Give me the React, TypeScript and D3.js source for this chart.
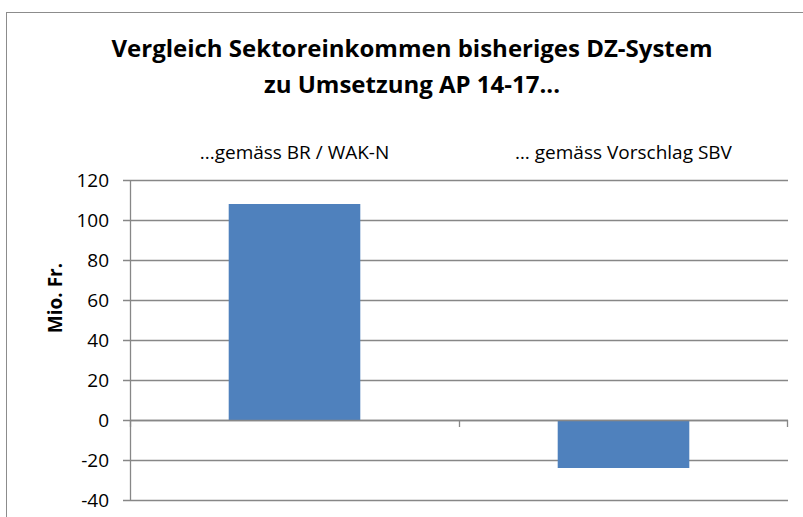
import { useEffect, useRef } from "react"
import * as d3 from "d3"

const categories = ["...gemäss BR / WAK-N", "… gemäss Vorschlag SBV"]
const values = [108, -24]
const yTicks = [-40, -20, 0, 20, 40, 60, 80, 100, 120]
const titleLines = ["Vergleich Sektoreinkommen bisheriges DZ-System", "zu Umsetzung AP 14-17..."]
const yLabel = "Mio. Fr."

export default function App() {
    const ref = useRef<SVGSVGElement | null>(null)

    useEffect(() => {
        const svg = d3.select(ref.current)
        svg.selectAll("*").remove()

        const width = 803
        const height = 517
        const margin = { top: 180, right: 15, bottom: 17, left: 130 }
        const innerW = width - margin.left - margin.right
        const innerH = height - margin.top - margin.bottom
        const font = "Open Sans, Liberation Sans, sans-serif"
        const grid = "#878787"

        svg.append("rect")
            .attr("x", 6.5).attr("y", 12.5)
            .attr("width", width + 20).attr("height", height + 20)
            .attr("fill", "#fff").attr("stroke", "#8c8c8c").attr("stroke-width", 1)

        svg.selectAll("text.title")
            .data(titleLines)
            .join("text")
            .attr("class", "title")
            .attr("x", 412)
            .attr("y", (_, i) => 57 + i * 36)
            .attr("text-anchor", "middle")
            .attr("font-family", font)
            .attr("font-weight", 700)
            .attr("font-size", 24)
            .attr("fill", "#000")
            .text(d => d)

        const g = svg.append("g").attr("transform", `translate(${margin.left},${margin.top})`)

        const x = d3.scaleBand().domain(categories).range([0, innerW]).paddingInner(0.6).paddingOuter(0.3)
        const xc = d3.scaleBand().domain(categories).range([0, innerW])
        const y = d3.scaleLinear().domain([-40, 120]).range([innerH, 0])

        // gridlines
        g.append("g")
            .selectAll("line")
            .data(yTicks)
            .join("line")
            .attr("x1", -7).attr("x2", innerW)
            .attr("y1", d => Math.round(y(d)) + 0.5).attr("y2", d => Math.round(y(d)) + 0.5)
            .attr("stroke", grid).attr("stroke-width", 1.3)

        g.append("line")
            .attr("x1", 0.5).attr("x2", 0.5).attr("y1", 0).attr("y2", innerH)
            .attr("stroke", grid).attr("stroke-width", 1.3)

        g.append("g")
            .selectAll("text")
            .data(yTicks)
            .join("text")
            .attr("x", -21)
            .attr("y", d => y(d))
            .attr("dy", "0.36em")
            .attr("text-anchor", "end")
            .attr("font-family", font)
            .attr("font-size", 19)
            .attr("fill", "#000")
            .text(d => d)

        g.append("g")
            .selectAll("rect")
            .data(values)
            .join("rect")
            .attr("x", (_, i) => x(categories[i])!)
            .attr("width", x.bandwidth())
            .attr("y", d => y(Math.max(0, d)))
            .attr("height", d => Math.abs(y(d) - y(0)))
            .attr("fill", "#4f81bd")

        // zero axis with category ticks
        g.append("line")
            .attr("x1", 0).attr("x2", innerW)
            .attr("y1", Math.round(y(0)) + 0.5).attr("y2", Math.round(y(0)) + 0.5)
            .attr("stroke", grid).attr("stroke-width", 1.3)

        const tickXs = [0, ...categories.map(c => xc(c)! + xc.bandwidth())]
        g.append("g")
            .selectAll("line")
            .data(tickXs)
            .join("line")
            .attr("x1", d => Math.min(Math.round(d) + 0.5, innerW - 0.5))
            .attr("x2", d => Math.min(Math.round(d) + 0.5, innerW - 0.5))
            .attr("y1", y(0)).attr("y2", y(0) + 7)
            .attr("stroke", grid).attr("stroke-width", 1.3)

        g.append("g")
            .selectAll("text")
            .data(categories)
            .join("text")
            .attr("x", d => xc(d)! + xc.bandwidth() / 2)
            .attr("y", -21)
            .attr("text-anchor", "middle")
            .attr("font-family", font)
            .attr("font-size", 19)
            .attr("fill", "#000")
            .text(d => d)

        svg.append("text")
            .attr("transform", `translate(62,298) rotate(-90)`)
            .attr("text-anchor", "middle")
            .attr("font-family", font)
            .attr("font-weight", 700)
            .attr("font-size", 19)
            .attr("fill", "#000")
            .text(yLabel)
    }, [])

    return (
        <svg
            ref={ref}
            width={803}
            height={517}
            style={{ position: "absolute", left: 0, top: 0, background: "#fff" }}
        />
    )
}
